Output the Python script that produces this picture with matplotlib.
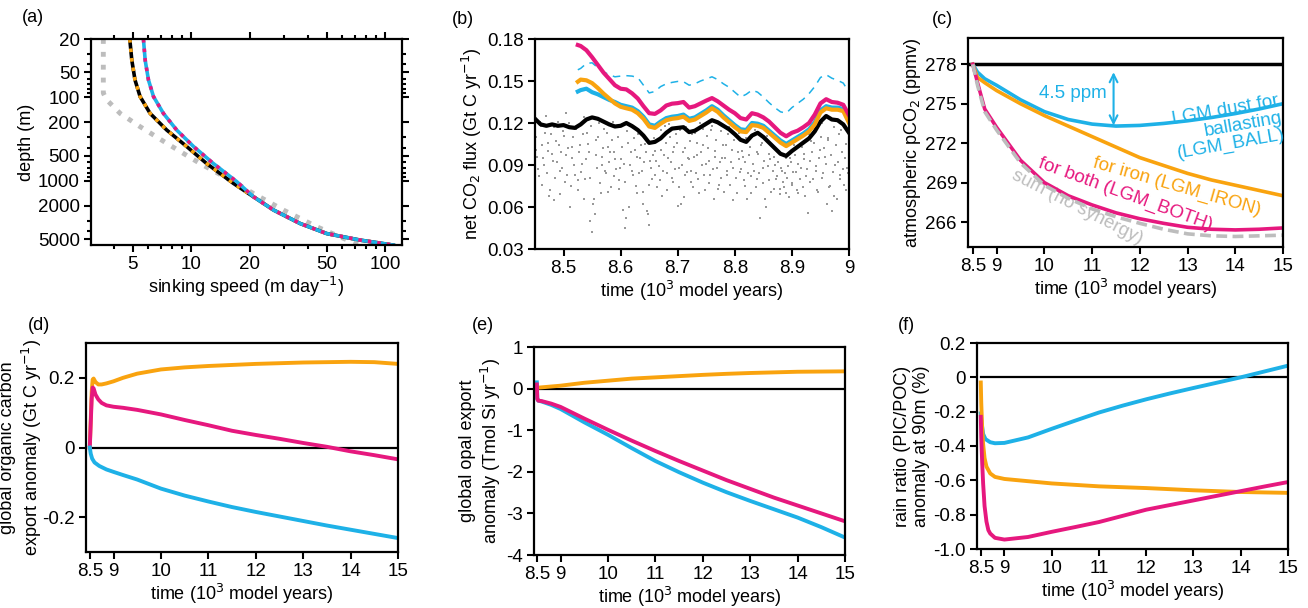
import numpy as np
import matplotlib
matplotlib.use('Agg')
import matplotlib.pyplot as plt
import matplotlib.ticker as mticker

plt.rcParams['font.family'] = ['Liberation Sans', 'DejaVu Sans']
plt.rcParams['font.size'] = 13
plt.rcParams['axes.unicode_minus'] = False
plt.rcParams['axes.linewidth'] = 1.6

blue = '#1EB1E7'
orange = '#F9A30F'
magenta = '#E6187E'
lgrey = '#BDBDBD'
dgrey = '#999999'

# ---- (a) sinking speed profiles
depth_grey = [20, 89, 107, 156, 225, 356, 620, 1028, 1419, 2249, 3565, 4920, 5916]
speed_grey = [3.53, 3.53, 3.67, 4.31, 5.46, 7.49, 11.1, 16.5, 20.9, 29.9, 44.4, 61.0, 72.9]
depth_ref = [20, 36, 62, 98, 156, 247, 390, 620, 1075, 1552, 2249, 3266, 4305, 5155, 5916]
speed_ref = [4.83, 4.95, 5.14, 5.46, 6.15, 7.49, 9.5, 12.0, 16.5, 20.9, 26.6, 36.5, 50.0, 74.3, 110.0]
depth_ball = [20, 36, 62, 98, 156, 247, 390, 620, 1028, 1552, 2249, 3266, 4305, 5155, 5916]
speed_ball = [5.68, 5.8, 6.03, 6.4, 7.2, 8.43, 10.3, 13.0, 17.2, 20.9, 26.6, 36.5, 50.0, 74.3, 110.0]

# ---- (b) net CO2 flux, 8.45-9.0 kyr
t_ctrl = np.round(np.arange(8.45, 9.0001, 0.01), 3)
flux_ctrl = [0.123, 0.119, 0.118, 0.119, 0.118, 0.1185, 0.117, 0.1165, 0.119, 0.1225,
             0.124, 0.123, 0.121, 0.119, 0.1175, 0.118, 0.120, 0.1178, 0.115, 0.111,
             0.1058, 0.1065, 0.109, 0.113, 0.116, 0.1165, 0.117, 0.1135, 0.1145, 0.117,
             0.1195, 0.122, 0.1205, 0.118, 0.1155, 0.112, 0.108, 0.1065, 0.111, 0.113,
             0.110, 0.106, 0.102, 0.098, 0.0965, 0.100, 0.103, 0.106, 0.109, 0.114,
             0.121, 0.125, 0.1225, 0.122, 0.119, 0.113]
t_exp = np.concatenate([[8.525], np.round(np.arange(8.53, 9.0001, 0.01), 3)])
flux_both = [0.1757, 0.175, 0.172, 0.167, 0.1615, 0.156, 0.1515, 0.147, 0.1445, 0.144,
             0.1412, 0.1375, 0.132, 0.127, 0.1265, 0.129, 0.1325, 0.1338, 0.1342, 0.135,
             0.131, 0.132, 0.134, 0.136, 0.1378, 0.1355, 0.1325, 0.1295, 0.127, 0.1235,
             0.1225, 0.127, 0.126, 0.124, 0.121, 0.117, 0.113, 0.1105, 0.113, 0.1145,
             0.117, 0.120, 0.126, 0.134, 0.137, 0.135, 0.1345, 0.133, 0.1255]
flux_iron = [0.1495, 0.151, 0.1505, 0.1485, 0.145, 0.141, 0.1375, 0.134, 0.1316, 0.1305,
             0.1295, 0.127, 0.123, 0.1175, 0.1165, 0.1195, 0.122, 0.123, 0.1235, 0.1245,
             0.1215, 0.1225, 0.125, 0.1275, 0.1305, 0.128, 0.124, 0.1205, 0.117, 0.114,
             0.1135, 0.1185, 0.118, 0.1165, 0.113, 0.1095, 0.106, 0.1035, 0.106, 0.1085,
             0.111, 0.114, 0.119, 0.1275, 0.1305, 0.1295, 0.1295, 0.1285, 0.120]
flux_ball = [0.1425, 0.1435, 0.1445, 0.142, 0.1405, 0.1385, 0.1365, 0.135, 0.133, 0.132,
             0.131, 0.1285, 0.1245, 0.119, 0.118, 0.121, 0.1235, 0.1245, 0.125, 0.126,
             0.123, 0.124, 0.1265, 0.129, 0.132, 0.1295, 0.1255, 0.122, 0.1185, 0.1155,
             0.115, 0.120, 0.1195, 0.118, 0.1145, 0.111, 0.1075, 0.105, 0.1075, 0.110,
             0.1125, 0.1155, 0.1205, 0.129, 0.132, 0.131, 0.131, 0.130, 0.1215]
flux_sum = [0.158, 0.159, 0.1625, 0.163, 0.1595, 0.1565, 0.1545, 0.153, 0.1535, 0.1538,
            0.1535, 0.1525, 0.147, 0.1415, 0.1425, 0.146, 0.148, 0.149, 0.1497, 0.1495,
            0.147, 0.148, 0.150, 0.1515, 0.153, 0.151, 0.148, 0.1455, 0.142, 0.1385,
            0.1405, 0.1435, 0.142, 0.1385, 0.1345, 0.131, 0.128, 0.127, 0.131, 0.134,
            0.137, 0.141, 0.146, 0.1525, 0.1545, 0.152, 0.1505, 0.1485, 0.1418]
# annual values (grey dots), in 1e-3 Gt C/yr, two interleaved sets
t_ann_a = np.round(8.451 + 0.003 * np.arange(184), 4)
flux_ann_a = [110, 96, 82, 118, 104, 90, 125, 100, 68, 112,
              93, 65, 107, 121, 86, 99, 114, 78, 127, 102,
              60, 95, 110, 83, 118, 72, 104, 91, 124, 80,
              113, 99, 50, 42, 66, 108, 88, 120, 70, 96,
              116, 84, 103, 92, 74, 121, 99, 87, 110, 79,
              94, 58, 45, 52, 106, 90, 118, 83, 101, 70,
              112, 95, 86, 62, 105, 57, 47, 93, 80, 109,
              100, 74, 89, 115, 68, 97, 106, 84, 119, 92,
              78, 103, 112, 61, 88, 62, 99, 83, 117, 95,
              107, 86, 74, 113, 97, 80, 120, 90, 104, 72,
              111, 93, 83, 118, 66, 100, 88, 76, 114, 95,
              71, 104, 86, 117, 92, 65, 108, 81, 99, 113,
              87, 96, 75, 109, 84, 103, 70, 91, 115, 80,
              98, 52, 106, 88, 66, 111, 79, 94, 104, 73,
              90, 82, 100, 69, 86, 74, 95, 81, 67, 92,
              77, 104, 85, 70, 110, 88, 74, 98, 82, 56,
              93, 107, 80, 115, 89, 71, 101, 120, 84, 96,
              62, 109, 75, 57, 117, 90, 66, 112, 83, 99,
              76, 105, 88, 80]
t_ann_b = np.round(8.4525 + 0.003 * np.arange(183), 4)
flux_ann_b = [101, 87, 121, 76, 95, 113, 84, 106, 72, 98,
              117, 81, 92, 104, 69, 88, 111, 97, 83, 120,
              75, 103, 90, 116, 79, 99, 85, 112, 66, 94,
              105, 81, 118, 62, 55, 97, 110, 77, 90, 102,
              86, 113, 71, 99, 108, 82, 94, 117, 73, 88,
              103, 91, 78, 114, 60, 99, 86, 109, 75, 96,
              84, 104, 71, 92, 99, 55, 76, 88, 97, 83,
              93, 108, 79, 101, 86, 118, 72, 95, 110, 81,
              99, 87, 106, 74, 115, 90, 67, 102, 85, 94,
              78, 112, 96, 84, 106, 70, 99, 116, 83, 91,
              102, 77, 115, 87, 96, 108, 73, 92, 81, 104,
              95, 83, 112, 76, 101, 88, 118, 70, 94, 85,
              100, 79, 92, 66, 97, 82, 110, 86, 74, 99,
              84, 104, 77, 93, 60, 89, 98, 71, 86, 96,
              80, 92, 73, 88, 78, 84, 70, 89, 95, 76,
              85, 97, 72, 91, 80, 103, 94, 68, 87, 112,
              78, 99, 106, 86, 72, 95, 110, 81, 102, 91,
              108, 74, 97, 85, 68, 104, 92, 80, 115, 87,
              95, 72, 84]

# ---- (c) atmospheric pCO2
t_c = [8.5, 8.6, 8.75, 9.0, 9.5, 10, 10.5, 11, 11.5, 12, 12.5, 13, 13.5, 14, 14.5, 15]
pco2_ball = [278.0, 277.4, 276.9, 276.4, 275.3, 274.4, 273.8, 273.45, 273.3, 273.35, 273.5, 273.7, 273.95, 274.25, 274.6, 275.0]
pco2_iron = [278.0, 277.0, 276.6, 276.0, 275.0, 274.1, 273.3, 272.5, 271.7, 270.9, 270.3, 269.7, 269.2, 268.8, 268.4, 268.0]
pco2_both = [278.0, 276.6, 274.6, 273.2, 270.7, 269.0, 268.0, 267.3, 266.7, 266.25, 265.9, 265.6, 265.45, 265.4, 265.45, 265.55]
pco2_sum = [278.0, 276.4, 274.4, 273.0, 270.5, 268.8, 267.8, 267.0, 266.4, 265.9, 265.45, 265.1, 264.95, 264.9, 264.95, 265.0]

# ---- (d) organic carbon export anomaly
t_d_ir = [8.50, 8.52, 8.54, 8.56, 8.58, 8.62, 8.68, 8.75, 8.85, 9.0, 9.2, 9.5, 10.0, 10.5, 11.0, 11.5, 12.0, 12.5, 13.0, 13.5, 14.0, 14.5, 15.0]
poc_iron = [0.0, 0.08, 0.16, 0.195, 0.198, 0.188, 0.181, 0.181, 0.184, 0.19, 0.20, 0.212, 0.224, 0.230, 0.234, 0.237, 0.240, 0.242, 0.244, 0.245, 0.246, 0.245, 0.240]
poc_both = [0.0, 0.07, 0.14, 0.172, 0.17, 0.152, 0.138, 0.128, 0.121, 0.117, 0.114, 0.108, 0.095, 0.079, 0.064, 0.048, 0.036, 0.025, 0.013, 0.002, -0.011, -0.022, -0.034]
t_d_ba = [8.50, 8.52, 8.55, 8.6, 8.7, 8.85, 9.0, 9.2, 9.5, 10.0, 10.5, 11.0, 11.5, 12.0, 12.5, 13.0, 13.5, 14.0, 14.5, 15.0]
poc_ball = [0.0, -0.018, -0.032, -0.043, -0.053, -0.063, -0.07, -0.079, -0.092, -0.118, -0.138, -0.155, -0.171, -0.185, -0.198, -0.211, -0.224, -0.236, -0.248, -0.26]

# ---- (e) opal export anomaly
t_e_ir = [8.5, 9.0, 9.5, 10, 10.5, 11, 11.5, 12, 12.5, 13, 13.5, 14, 14.5, 15]
opal_iron = [0.02, 0.07, 0.14, 0.19, 0.24, 0.27, 0.30, 0.33, 0.355, 0.375, 0.39, 0.405, 0.41, 0.415]
t_e = [8.50, 8.51, 8.53, 8.6, 8.8, 9.0, 9.5, 10, 10.5, 11, 11.5, 12, 12.5, 13, 13.5, 14, 14.5, 15]
opal_both = [0.1, -0.25, -0.29, -0.30, -0.36, -0.44, -0.72, -0.99, -1.25, -1.5, -1.74, -1.97, -2.2, -2.41, -2.62, -2.81, -3.0, -3.19]
opal_ball = [0.15, -0.25, -0.29, -0.31, -0.39, -0.49, -0.81, -1.11, -1.43, -1.74, -2.01, -2.26, -2.49, -2.7, -2.9, -3.1, -3.33, -3.58]

# ---- (f) rain ratio anomaly
t_f_ba = [8.50, 8.52, 8.55, 8.6, 8.7, 8.8, 9.0, 9.5, 10, 10.5, 11, 11.5, 12, 12.5, 13, 13.5, 14, 14.5, 15]
rain_ball = [-0.21, -0.27, -0.33, -0.36, -0.378, -0.384, -0.382, -0.35, -0.30, -0.252, -0.205, -0.165, -0.128, -0.094, -0.062, -0.031, 0.0, 0.034, 0.068]
t_f_ir = [8.50, 8.51, 8.53, 8.55, 8.58, 8.62, 8.7, 8.8, 9.0, 9.5, 10, 11, 12, 13, 14, 15]
rain_iron = [-0.03, -0.15, -0.3, -0.39, -0.47, -0.52, -0.56, -0.58, -0.592, -0.605, -0.618, -0.635, -0.645, -0.658, -0.668, -0.673]
t_f_bo = [8.50, 8.51, 8.53, 8.55, 8.58, 8.62, 8.66, 8.7, 8.8, 9.0, 9.5, 10, 10.5, 11, 11.5, 12, 12.5, 13, 13.5, 14, 14.5, 15]
rain_both = [-0.23, -0.35, -0.5, -0.62, -0.75, -0.84, -0.89, -0.91, -0.935, -0.945, -0.93, -0.90, -0.872, -0.843, -0.807, -0.771, -0.744, -0.717, -0.69, -0.663, -0.636, -0.61]

kyr_ticks = [8.5, 9, 10, 11, 12, 13, 14, 15]
kyr_labels = ['8.5', '9', '10', '11', '12', '13', '14', '15']
tlabel = 'time (10$^3$ model years)'

fig = plt.figure(figsize=(13.08, 6.08), dpi=100)
W, H = 1308.0, 608.0
def box(l, r, t, b):
    return [l / W, 1 - b / H, (r - l) / W, (b - t) / H]

def style(ax):
    ax.tick_params(which='both', direction='out', width=1.5, length=5, labelsize=13.5, pad=3)

def kyr_axis(ax):
    ax.set_xticks(kyr_ticks)
    ax.set_xticklabels(kyr_labels)
    ax.set_xlim(8.42, 15)
    ax.set_xlabel(tlabel, labelpad=1)

# (a)
ax = fig.add_axes(box(91, 402, 39, 245))
ax.set_xscale('log')
ax.set_yscale('log')
ax.plot(speed_grey, depth_grey, ':', color=lgrey, lw=3.5)
ax.plot(speed_ref, depth_ref, '-', color='black', lw=2.6)
ax.plot(speed_ref, depth_ref, ':', color=orange, lw=2.6)
ax.plot(speed_ball, depth_ball, '-', color=blue, lw=2.6)
ax.plot(speed_ball, depth_ball, ':', color=magenta, lw=2.6)
ax.set_xlim(3.05, 122)
ax.set_ylim(5900, 20)
ax.xaxis.set_major_locator(mticker.FixedLocator([5, 10, 20, 50, 100]))
ax.xaxis.set_major_formatter(mticker.FixedFormatter(['5', '10', '20', '50', '100']))
ax.xaxis.set_minor_locator(mticker.FixedLocator([4, 6, 7, 8, 9, 30, 40, 60, 70, 80, 90]))
ax.xaxis.set_minor_formatter(mticker.NullFormatter())
ax.yaxis.set_major_locator(mticker.FixedLocator([20, 50, 100, 200, 500, 1000, 2000, 5000]))
ax.yaxis.set_major_formatter(mticker.FixedFormatter(['20', '50', '100', '200', '500', '1000', '2000', '5000']))
ax.yaxis.set_minor_locator(mticker.FixedLocator([30, 40, 60, 70, 80, 90, 300, 400, 600, 700, 800, 900, 3000, 4000]))
ax.yaxis.set_minor_formatter(mticker.NullFormatter())
style(ax)
ax.tick_params(which='both', top=True, right=True)
ax.tick_params(which='minor', length=3)
ax.set_xlabel('sinking speed (m day$^{-1}$)', labelpad=1)
ax.set_ylabel('depth (m)', labelpad=2)

# (b)
ax = fig.add_axes(box(535, 849, 39, 249))
ax.plot(t_ann_a, np.array(flux_ann_a) / 1000.0, 's', color=dgrey, ms=1.9, mew=0)
ax.plot(t_ann_b, np.array(flux_ann_b) / 1000.0, 's', color=dgrey, ms=1.9, mew=0)
ax.plot(t_exp, flux_sum, '--', color=blue, lw=1.1, dashes=(5, 4))
ax.plot(t_ctrl, flux_ctrl, color='black', lw=3)
ax.plot(t_exp, flux_ball, color=blue, lw=3)
ax.plot(t_exp, flux_iron, color=orange, lw=3)
ax.plot(t_exp, flux_both, color=magenta, lw=3)
ax.set_xlim(8.45, 9.0)
ax.set_ylim(0.03, 0.18)
ax.set_xticks([8.5, 8.6, 8.7, 8.8, 8.9, 9.0])
ax.set_xticklabels(['8.5', '8.6', '8.7', '8.8', '8.9', '9'])
ax.set_yticks([0.03, 0.06, 0.09, 0.12, 0.15, 0.18])
ax.yaxis.set_major_formatter(mticker.FormatStrFormatter('%.2f'))
style(ax)
ax.set_xlabel(tlabel, labelpad=1)
ax.set_ylabel('net CO$_2$ flux (Gt C yr$^{-1}$)', labelpad=2)

# (c)
ax = fig.add_axes(box(968, 1283, 38, 247))
ax.axhline(278, color='black', lw=2.5)
ax.plot(t_c, pco2_ball, color=blue, lw=2.6)
ax.plot(t_c, pco2_iron, color=orange, lw=2.6)
ax.plot(t_c, pco2_both, color=magenta, lw=2.6)
ax.plot(t_c, pco2_sum, '--', color=lgrey, lw=2.6, dashes=(3, 1.5))
ax.annotate('', xy=(11.45, 273.35), xytext=(11.45, 277.4),
            arrowprops=dict(arrowstyle='<->', color=blue, lw=1.5, shrinkA=0, shrinkB=0, mutation_scale=14))
ax.text(11.3, 275.8, '4.5 ppm', color=blue, fontsize=13.5, ha='right', va='center')
ax.text(13.85, 273.2, 'LGM dust for\nballasting\n(LGM_BALL)', color=blue, fontsize=13.5,
        ha='center', va='center', rotation=10, multialignment='right', linespacing=1.0)
ax.text(12.78, 268.7, 'for iron (LGM_IRON)', color=orange, fontsize=13.5, ha='center', va='center', rotation=-16)
ax.text(11.69, 268.1, 'for both (LGM_BOTH)', color=magenta, fontsize=13.5, ha='center', va='center', rotation=-20)
ax.text(10.68, 267.1, 'sum (no synergy)', color=lgrey, fontsize=13.5, ha='center', va='center', rotation=-27, zorder=1)
ax.set_ylim(264.1, 280)
ax.set_yticks([266, 269, 272, 275, 278])
kyr_axis(ax)
ax.set_xlim(8.4, 15)
style(ax)
ax.set_ylabel('atmospheric pCO$_2$ (ppmv)', labelpad=2)

# (d)
ax = fig.add_axes(box(86, 398, 343, 552))
ax.plot([8.5, 15], [0, 0], color='black', lw=1.6)
ax.plot(t_d_ir, poc_iron, color=orange, lw=2.8)
ax.plot(t_d_ir, poc_both, color=magenta, lw=2.8)
ax.plot(t_d_ba, poc_ball, color=blue, lw=2.8)
ax.set_ylim(-0.3, 0.3)
ax.set_yticks([-0.2, 0, 0.2])
ax.set_yticklabels(['-0.2', '0', '0.2'])
kyr_axis(ax)
style(ax)
ax.set_ylabel('global organic carbon\nexport anomaly (Gt C yr$^{-1}$)')
ax.yaxis.set_label_coords(-0.135, 0.5)

# (e)
ax = fig.add_axes(box(534, 845, 347, 555))
ax.plot([8.5, 15], [0, 0], color='black', lw=1.6)
ax.plot(t_e_ir, opal_iron, color=orange, lw=2.8)
ax.plot(t_e, opal_ball, color=blue, lw=2.8)
ax.plot(t_e, opal_both, color=magenta, lw=2.8)
ax.set_ylim(-4, 1)
ax.set_yticks([-4, -3, -2, -1, 0, 1])
ax.set_yticklabels(['-4', '-3', '-2', '-1', '0', '1'])
kyr_axis(ax)
ax.set_xlim(8.44, 15)
style(ax)
ax.set_ylabel('global opal export\nanomaly (Tmol Si yr$^{-1}$)', labelpad=2)

# (f)
ax = fig.add_axes(box(977, 1288, 343, 549))
ax.plot([8.5, 15], [0, 0], color='black', lw=1.6)
ax.plot(t_f_ba, rain_ball, color=blue, lw=2.8)
ax.plot(t_f_ir, rain_iron, color=orange, lw=2.8)
ax.plot(t_f_bo, rain_both, color=magenta, lw=2.8)
ax.set_ylim(-1.0, 0.2)
ax.set_yticks([-1.0, -0.8, -0.6, -0.4, -0.2, 0, 0.2])
ax.set_yticklabels(['-1.0', '-0.8', '-0.6', '-0.4', '-0.2', '0', '0.2'])
kyr_axis(ax)
style(ax)
ax.set_ylabel('rain ratio (PIC/POC)\nanomaly at 90m (%)', labelpad=2)

# panel letters
for lab, x, y in [('(a)', 22, 17), ('(b)', 452, 20), ('(c)', 932, 20),
                  ('(d)', 28, 326), ('(e)', 472, 326), ('(f)', 898, 326)]:
    fig.text(x / W, 1 - y / H, lab, fontsize=13, ha='left', va='center')

fig.savefig('out.png', dpi=100)
